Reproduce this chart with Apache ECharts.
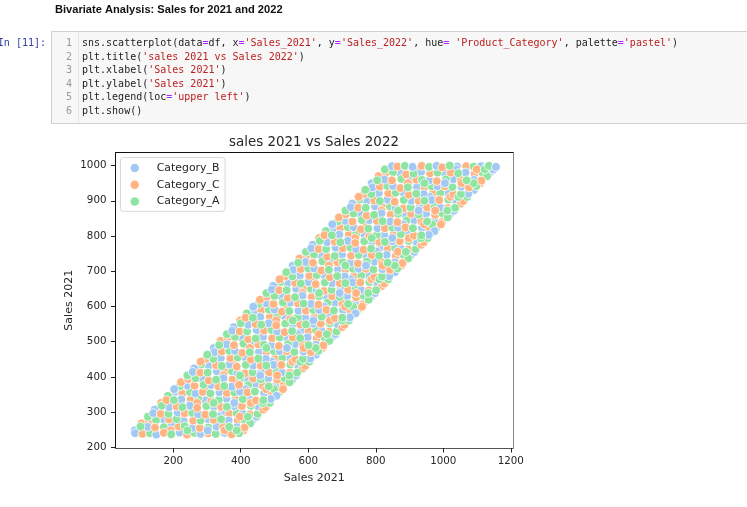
<!DOCTYPE html>
<html><head><meta charset="utf-8">
<script src="https://cdn.jsdelivr.net/npm/echarts@6/dist/echarts.min.js"></script>
<style>html,body{margin:0;padding:0;background:#fff}#c{width:747px;height:507px}</style>
</head><body><div id="c"></div>
<script>
const categories = ['Category_B','Category_C','Category_A'];
const palette = ['#a1c9f4','#ffb482','#8de5a1'];
const xTicks = [200,400,600,800,1000,1200];
const yTicks = [200,300,400,500,600,700,800,900,1000];
const salesB = [
[86,248],[145,307],[203,365],[262,424],[320,482],[379,541],[437,599],[496,658],[554,716],[613,775],[671,833],[730,892],[788,950],
[447,287],[506,346],[564,404],[623,463],[681,521],[740,580],[798,638],[857,697],[915,755],[974,814],[1032,872],[1091,931],[1149,989],
[133,248],[302,248],[178,287],[336,287],[210,326],[381,326],[255,365],[414,365],[288,404],[458,404],[333,443],[492,443],
[366,482],[537,482],[411,521],[570,521],[444,560],[615,560],[489,599],[648,599],[522,638],[693,638],[567,677],[726,677],
[600,716],[771,716],[645,755],[804,755],[678,794],[849,794],[723,833],[882,833],[756,872],[927,872],[801,911],[960,911],
[834,950],[1005,950],[879,989],[1038,989],
[87,240],[150,236],[219,242],[281,238],[352,241],[124,258],[195,261],[257,255],[328,259],[389,257],
[171,279],[231,275],[303,280],[364,276],[435,278],[141,297],[213,299],[274,294],[345,298],[406,296],
[188,314],[249,318],[320,315],[381,317],[452,316],[224,336],[296,333],[357,338],[428,335],[489,337],
[205,357],[266,353],[337,356],[398,358],[469,354],[241,375],[312,377],[373,372],[444,376],[505,374],
[288,392],[349,396],[420,393],[481,395],[552,392],[258,414],[329,416],[390,411],[461,415],[522,413],
[305,431],[366,435],[437,432],[498,434],[569,433],[341,453],[413,455],[474,451],[545,454],[606,452],
[322,470],[383,474],[454,471],[515,473],[586,472],[358,492],[430,494],[491,490],[562,493],[623,491],
[405,509],[466,513],[537,510],[598,512],[669,511],[375,531],[447,533],[508,529],[579,532],[640,530],
[422,548],[483,552],[554,549],[615,551],[686,550],[458,570],[530,572],[591,568],[662,571],[723,569],
[439,587],[500,591],[571,588],[632,590],[703,589],[475,609],[547,611],[608,607],[679,610],[740,608],
[522,626],[583,630],[654,627],[715,629],[786,628],[492,648],[564,650],[625,646],[696,649],[757,647],
[539,665],[600,669],[671,666],[732,668],[803,667],[575,687],[647,689],[708,685],[779,688],[840,686],
[556,704],[617,708],[688,705],[749,707],[820,706],[592,726],[664,728],[725,724],[796,727],[857,725],
[639,743],[700,747],[771,744],[832,746],[903,745],[609,765],[681,767],[742,763],[813,766],[874,764],
[656,782],[717,786],[788,783],[849,785],[920,784],[692,804],[764,806],[825,802],[896,805],[957,803],
[673,821],[734,825],[805,822],[866,824],[937,823],[709,843],[781,845],[842,841],[913,844],[974,842],
[756,860],[817,864],[888,861],[949,863],[1020,862],[726,882],[798,884],[859,880],[930,883],[991,881],
[773,899],[834,903],[905,900],[966,902],[1037,901],[809,921],[881,923],[942,919],[1013,922],[1074,920],
[790,938],[851,942],[922,939],[983,941],[1054,940],[826,960],[898,962],[959,958],[1030,961],[1091,959],
[873,977],[934,981],[1005,978],[1066,980],[1137,979],[848,998],[909,996],[980,999],[1041,997],[1112,998],[1156,996]
];
const salesC = [
[106,268],[164,326],[223,385],[281,443],[340,502],[398,560],[457,619],[515,677],[574,736],[632,794],[691,853],[749,911],[808,970],
[408,248],[467,307],[525,365],[584,424],[642,482],[701,541],[759,599],[818,658],[876,716],[935,775],[993,833],[1052,892],[1110,950],
[193,248],[352,248],[226,287],[397,287],[271,326],[430,326],[304,365],[475,365],[349,404],[508,404],[382,443],[553,443],
[427,482],[586,482],[460,521],[631,521],[505,560],[664,560],[538,599],[709,599],[583,638],[742,638],[616,677],[787,677],
[661,716],[820,716],[694,755],[865,755],[739,794],[898,794],[772,833],[943,833],[817,872],[976,872],[850,911],[1021,911],
[895,950],[1054,950],[928,989],[1099,989],
[109,238],[172,241],[241,236],[304,240],[373,237],[146,256],[216,259],[279,255],[348,258],[411,256],
[127,275],[188,279],[259,276],[320,278],[391,277],[163,295],[234,297],[295,293],[366,296],[427,294],
[210,316],[271,312],[342,315],[403,317],[474,314],[180,334],[252,336],[313,332],[384,335],[445,333],
[227,353],[288,357],[359,354],[420,356],[491,355],[263,375],[334,373],[395,377],[466,374],[527,376],
[244,394],[305,390],[376,393],[437,395],[508,392],[280,412],[352,414],[413,410],[484,413],[545,411],
[327,433],[388,429],[459,432],[520,434],[591,431],[297,451],[369,453],[430,449],[501,452],[562,450],
[344,472],[405,468],[476,471],[537,473],[608,470],[380,490],[452,492],[513,488],[584,491],[645,489],
[361,511],[422,507],[493,510],[554,512],[625,509],[397,529],[469,531],[530,527],[601,530],[662,528],
[444,550],[505,546],[576,549],[637,551],[708,548],[414,568],[486,570],[547,566],[618,569],[679,567],
[461,589],[522,585],[593,588],[654,590],[725,587],[497,607],[569,609],[630,605],[701,608],[762,606],
[478,628],[539,624],[610,627],[671,629],[742,626],[514,646],[586,648],[647,644],[718,647],[779,645],
[561,667],[622,663],[693,666],[754,668],[825,665],[531,685],[603,687],[664,683],[735,686],[796,684],
[578,706],[639,702],[710,705],[771,707],[842,704],[614,724],[686,726],[747,722],[818,725],[879,723],
[595,745],[656,741],[727,744],[788,746],[859,743],[631,763],[703,765],[764,761],[835,764],[896,762],
[678,784],[739,780],[810,783],[871,785],[942,782],[648,802],[720,804],[781,800],[852,803],[913,801],
[695,823],[756,819],[827,822],[888,824],[959,821],[731,841],[803,843],[864,839],[935,842],[996,840],
[712,862],[773,858],[844,861],[905,863],[976,860],[748,880],[820,882],[881,878],[952,881],[1013,879],
[795,901],[856,897],[927,900],[988,902],[1059,899],[765,919],[837,921],[898,917],[969,920],[1030,918],
[812,940],[873,936],[944,939],[1005,941],[1076,938],[848,958],[920,960],[981,956],[1052,959],[1113,957],
[829,979],[890,975],[961,978],[1022,980],[1093,977],[864,997],[936,999],[997,995],[1068,998],[1129,996]
];
const salesA = [
[125,287],[184,346],[242,404],[301,463],[359,521],[418,580],[476,638],[535,697],[593,755],[652,814],[710,872],[769,931],[827,989],
[428,268],[486,326],[545,385],[603,443],[662,502],[720,560],[779,619],[837,677],[896,736],[954,794],[1013,853],[1071,911],[1130,970],
[242,248],[388,248],[287,287],[421,287],[320,326],[466,326],[365,365],[499,365],[398,404],[544,404],[443,443],[577,443],
[476,482],[622,482],[521,521],[655,521],[554,560],[700,560],[599,599],[733,599],[632,638],[778,638],[677,677],[811,677],
[710,716],[856,716],[755,755],[889,755],[788,794],[934,794],[833,833],[967,833],[866,872],[1012,872],[911,911],[1045,911],
[944,950],[1090,950],[989,989],[1123,989],
[131,240],[194,237],[263,241],[326,238],[395,240],[103,259],[172,257],[234,260],[304,256],[366,258],
[149,277],[210,280],[281,276],[342,279],[413,275],[186,295],[256,298],[318,294],[388,297],[450,295],
[166,318],[227,314],[298,317],[359,315],[430,318],[202,334],[274,338],[335,335],[406,337],[467,334],
[249,357],[310,353],[381,356],[442,358],[513,355],[219,373],[290,377],[351,374],[422,376],[483,373],
[266,396],[327,392],[398,395],[459,393],[530,396],[302,412],[374,416],[435,413],[506,415],[567,412],
[283,435],[344,431],[415,434],[476,432],[547,435],[319,451],[391,455],[452,452],[523,454],[584,451],
[366,474],[427,470],[498,473],[559,471],[630,474],[336,490],[408,494],[469,491],[540,493],[601,490],
[383,513],[444,509],[515,512],[576,510],[647,513],[419,529],[491,533],[552,530],[623,532],[684,529],
[400,552],[461,548],[532,551],[593,549],[664,552],[436,568],[508,572],[569,569],[640,571],[701,568],
[483,591],[544,587],[615,590],[676,588],[747,591],[453,607],[525,611],[586,608],[657,610],[718,607],
[500,630],[561,626],[632,629],[693,627],[764,630],[536,646],[608,650],[669,647],[740,649],[801,646],
[517,669],[578,665],[649,668],[710,666],[781,669],[553,685],[625,689],[686,686],[757,688],[818,685],
[600,708],[661,704],[732,707],[793,705],[864,708],[570,724],[642,728],[703,725],[774,727],[835,724],
[617,747],[678,743],[749,746],[810,744],[881,747],[653,763],[725,767],[786,764],[857,766],[918,763],
[634,786],[695,782],[766,785],[827,783],[898,786],[670,802],[742,806],[803,803],[874,805],[935,802],
[717,825],[778,821],[849,824],[910,822],[981,825],[687,841],[759,845],[820,842],[891,844],[952,841],
[734,864],[795,860],[866,863],[927,861],[998,864],[770,880],[842,884],[903,881],[974,883],[1035,880],
[751,903],[812,899],[883,902],[944,900],[1015,903],[787,919],[859,923],[920,920],[991,922],[1052,919],
[834,942],[895,938],[966,941],[1027,939],[1098,942],[804,958],[876,962],[937,959],[1008,961],[1069,958],
[851,981],[912,977],[983,980],[1044,978],[1115,981],[886,999],[958,996],[1019,1000],[1090,997],[1135,999]
];
const seriesValues = [salesB, salesC, salesA];
const pageHeading = 'Bivariate Analysis: Sales for 2021 and 2022';
const chartTitle = 'sales 2021 vs Sales 2022';
const xLabel = 'Sales 2021', yLabel = 'Sales 2021';
const codeLines = [
 "sns.scatterplot(data{o|=}df, x{o|=}{s|'Sales_2021'}, y{o|=}{s|'Sales_2022'}, hue{o|=} {s|'Product_Category'}, palette{o|=}{s|'pastel'})",
 "plt.title({s|'sales 2021 vs Sales 2022'})",
 "plt.xlabel({s|'Sales 2021'})",
 "plt.ylabel({s|'Sales 2021'})",
 "plt.legend(loc{o|=}{s|'upper left'})",
 "plt.show()"
];
const MONO = '"DejaVu Sans Mono"', SANS = '"DejaVu Sans"';
const graphic = [
 {type:'text',left:55,top:4.5,style:{text:pageHeading,font:'bold 11.1px "Liberation Sans"',fill:'#111'}},
 {type:'rect',shape:{x:51.5,y:31.5,width:700,height:92},style:{fill:'#f7f7f7',stroke:'#cfcfcf',lineWidth:1}},
 {type:'line',shape:{x1:78.5,y1:32,x2:78.5,y2:123},style:{stroke:'#e4e4e4',lineWidth:1}},
 {type:'text',x:46,y:38.5,style:{text:'In [11]:',font:'10px '+MONO,fill:'#303f9f',textAlign:'right'}}
];
codeLines.forEach((t,i)=>{
 const y = 38.5+i*13.6;
 graphic.push({type:'text',x:72,y:y,style:{text:String(i+1),font:'10px '+MONO,fill:'#999',textAlign:'right'}});
 graphic.push({type:'text',x:82,y:y,style:{text:t,font:'10px '+MONO,fill:'#222',
   rich:{s:{fill:'#ba2121',font:'10px '+MONO},o:{fill:'#aa22ff',font:'10px '+MONO}}}});
});
const tickStyle = {show:true,length:4.5,lineStyle:{color:'#222',width:1}};
const labelStyle = {color:'#262626',fontFamily:SANS,fontSize:10.3,formatter:v=>String(v)};
const layers = 4;
const series = [];
for (let l=0;l<layers;l++) categories.forEach((name,i)=>series.push({
   name:name,type:'scatter',data:seriesValues[i].filter((p,j)=>j%layers===l),symbol:'circle',symbolSize:8.8,
   itemStyle:{color:palette[i],opacity:1,borderColor:'#fff',borderWidth:0.8},silent:true
}));
const chart = echarts.init(document.getElementById('c'),null,{renderer:'canvas'});
chart.setOption({
 animation:false,
 backgroundColor:'#fff',
 graphic:graphic,
 title:{text:chartTitle,left:309,top:131,textAlign:'center',
   textStyle:{fontFamily:SANS,fontSize:13.4,fontWeight:'normal',color:'#262626'}},
 grid:{left:115.5,top:152.5,width:397.5,height:295.5,show:false},
 legend:{orient:'vertical',left:120.5,top:157.5,padding:[4,5.5,3.5,10],itemWidth:12,itemHeight:8.5,itemGap:3.7,
   icon:'circle',data:categories,backgroundColor:'rgba(255,255,255,0.8)',borderColor:'#d8d8d8',borderWidth:1,borderRadius:3,
   selectedMode:false,itemStyle:{borderWidth:0},textStyle:{fontFamily:SANS,fontSize:10.9,color:'#262626',lineHeight:13,padding:[0,0,0,11]}},
 xAxis:[
  {type:'value',min:29,max:1206.5,position:'bottom',name:xLabel,nameLocation:'middle',nameGap:25,
   nameTextStyle:{fontFamily:SANS,fontSize:11,color:'#262626'},splitLine:{show:false},
   axisLine:{onZero:false,lineStyle:{color:'#555',width:1}},axisTick:{...tickStyle,customValues:xTicks},
   axisLabel:{...labelStyle,margin:8,customValues:xTicks}},
  {type:'value',min:29,max:1206.5,position:'top',splitLine:{show:false},axisTick:{show:false},axisLabel:{show:false},
   axisLine:{show:true,onZero:false,lineStyle:{color:'#111',width:1}}}
 ],
 yAxis:[
  {type:'value',min:198,max:1037,position:'left',name:yLabel,nameLocation:'middle',nameGap:41,nameMoveOverlap:false,
   nameTextStyle:{fontFamily:SANS,fontSize:11,color:'#262626'},splitLine:{show:false},
   axisLine:{show:true,onZero:false,lineStyle:{color:'#111',width:1}},axisTick:{...tickStyle,customValues:yTicks},
   axisLabel:{...labelStyle,margin:9,customValues:yTicks}},
  {type:'value',min:198,max:1037,position:'right',splitLine:{show:false},axisTick:{show:false},axisLabel:{show:false},
   axisLine:{show:true,onZero:false,lineStyle:{color:'#888',width:1}}}
 ],
 series:series
});
</script></body></html>
